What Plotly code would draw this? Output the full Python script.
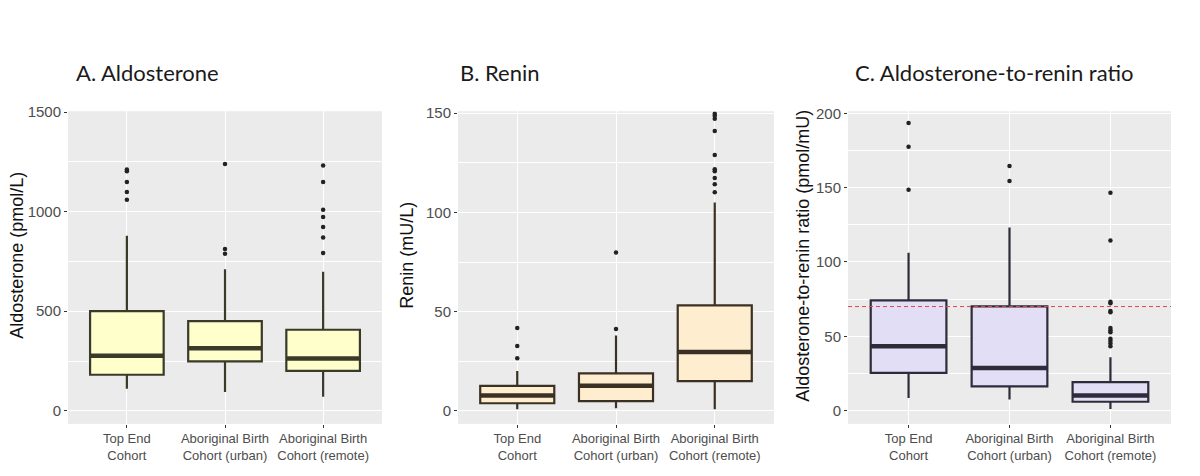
import plotly.graph_objects as go
from plotly.subplots import make_subplots

# cohorts (x positions 1, 2, 3)
cohorts = ["Top End<br>Cohort", "Aboriginal Birth<br>Cohort (urban)", "Aboriginal Birth<br>Cohort (remote)"]
positions = [1, 2, 3]

# A. Aldosterone (pmol/L)
aldo_q1 = [181, 248, 200]
aldo_median = [276, 314, 263]
aldo_q3 = [501, 450, 407]
aldo_lower = [110, 94, 71]
aldo_upper = [879, 711, 698]
aldo_outliers = [[1212, 1203, 1150, 1099, 1060],
                 [1240, 813, 789],
                 [1232, 1150, 1010, 974, 923, 871, 793]]

# B. Renin (mU/L)
renin_q1 = [3.8, 4.9, 15.0]
renin_median = [7.7, 12.6, 29.7]
renin_q3 = [12.6, 18.9, 53.1]
renin_lower = [0.8, 1.3, 0.8]
renin_upper = [20.0, 38.0, 105.0]
renin_outliers = [[41.7, 32.7, 26.5],
                  [41.2, 79.8],
                  [149.7, 148.7, 147.2, 141.1, 129.0, 121.7, 120.7, 117.3, 114.2, 110.2]]

# C. Aldosterone-to-renin ratio (pmol/mU)
arr_q1 = [25.3, 16.3, 5.9]
arr_median = [43.3, 28.6, 10.1]
arr_q3 = [74.1, 70.1, 19.1]
arr_lower = [8.4, 7.5, 1.1]
arr_upper = [106.2, 123.3, 35.8]
arr_outliers = [[193.6, 177.6, 148.6],
                [164.6, 154.5],
                [146.6, 114.5, 73.2, 72.3, 67.0, 66.2, 55.6, 54.1, 52.7, 48.4, 46.8, 45.1, 43.3]]
arr_cutoff = 70

panels = [
    dict(title="A. Aldosterone", ytitle="Aldosterone (pmol/L)",
         q1=aldo_q1, med=aldo_median, q3=aldo_q3, lo=aldo_lower, hi=aldo_upper, out=aldo_outliers,
         fill="#FFFFCC", line="#3a3a2a", yrange=[-66, 1505], dtick=500, minor=250),
    dict(title="B. Renin", ytitle="Renin (mU/L)",
         q1=renin_q1, med=renin_median, q3=renin_q3, lo=renin_lower, hi=renin_upper, out=renin_outliers,
         fill="#FFEDCF", line="#3b3024", yrange=[-6.6, 151], dtick=50, minor=25),
    dict(title="C. Aldosterone-to-renin ratio", ytitle="Aldosterone-to-renin ratio (pmol/mU)",
         q1=arr_q1, med=arr_median, q3=arr_q3, lo=arr_lower, hi=arr_upper, out=arr_outliers,
         fill="#E2DEF5", line="#2e2b3a", yrange=[-9, 201.5], dtick=50, minor=25),
]

W, H = 1200, 476
x_domains = [(68, 382), (458, 774), (848, 1171)]
y_top, y_bot = 105, 423
title_x = [74, 458, 853]
ytitle_x = [17, 407, 803]
box_w = 0.75

fig = make_subplots(rows=1, cols=3)

for i, p in enumerate(panels):
    col = i + 1
    fig.add_trace(go.Box(
        x=positions, q1=p["q1"], median=p["med"], q3=p["q3"],
        lowerfence=p["lo"], upperfence=p["hi"],
        width=box_w, whiskerwidth=0, boxpoints=False,
        fillcolor=p["fill"], line=dict(color=p["line"], width=2.2),
        hoverinfo="skip", showlegend=False,
    ), row=1, col=col)
    # thicker median lines (ggplot style)
    for pos, m in zip(positions, p["med"]):
        fig.add_trace(go.Scatter(
            x=[pos - box_w / 2, pos + box_w / 2], y=[m, m], mode="lines",
            line=dict(color=p["line"], width=4.5), hoverinfo="skip", showlegend=False,
        ), row=1, col=col)
    # outliers
    ox, oy = [], []
    for pos, vals in zip(positions, p["out"]):
        ox += [pos] * len(vals)
        oy += vals
    fig.add_trace(go.Scatter(
        x=ox, y=oy, mode="markers",
        marker=dict(color="#222222", size=4.5),
        hoverinfo="skip", showlegend=False,
    ), row=1, col=col)

    x0, x1 = x_domains[i]
    fig.update_xaxes(
        domain=[x0 / W, x1 / W], range=[0.4, 3.6],
        tickvals=positions, ticktext=cohorts,
        showgrid=True, gridcolor="white", gridwidth=1.2,
        ticks="outside", ticklen=3, tickcolor="#333333",
        tickfont=dict(family="Liberation Sans, Arial", size=13, color="#4d4d4d"),
        zeroline=False, showline=False,
        row=1, col=col)
    fig.update_yaxes(
        domain=[1 - y_bot / H, 1 - y_top / H], range=p["yrange"],
        dtick=p["dtick"], tick0=0,
        showgrid=True, gridcolor="white", gridwidth=1.2,
        minor=dict(dtick=p["minor"], tick0=0, showgrid=True, gridcolor="white", gridwidth=0.5),
        ticks="outside", ticklen=3, tickcolor="#333333",
        tickfont=dict(family="Liberation Sans, Arial", size=15, color="#4d4d4d"),
        zeroline=False, showline=False,
        row=1, col=col)

    fig.add_annotation(
        text=p["title"], xref="paper", yref="paper",
        x=title_x[i] / W, y=1 - 66 / H, xanchor="left", yanchor="middle",
        showarrow=False, font=dict(family="Lato", size=22, color="#1a1a1a"))
    fig.add_annotation(
        text=p["ytitle"], xref="paper", yref="paper", textangle=-90,
        x=ytitle_x[i] / W, y=1 - 252 / H, xanchor="center", yanchor="middle",
        showarrow=False, font=dict(family="Liberation Sans, Arial", size=18, color="#111111"))

# ARR screening cut-off
fig.add_hline(y=arr_cutoff, line=dict(color="#e04848", width=1, dash="4px,3px"), row=1, col=3)

fig.update_layout(
    width=W, height=H,
    margin=dict(l=0, r=0, t=0, b=0),
    plot_bgcolor="#EBEBEB", paper_bgcolor="white",
    showlegend=False,
)

# drop the default page margin so the figure sits at the window origin
fig.write_html("out.html", config={"displayModeBar": False},
               post_script="document.body.style.margin='0';")
